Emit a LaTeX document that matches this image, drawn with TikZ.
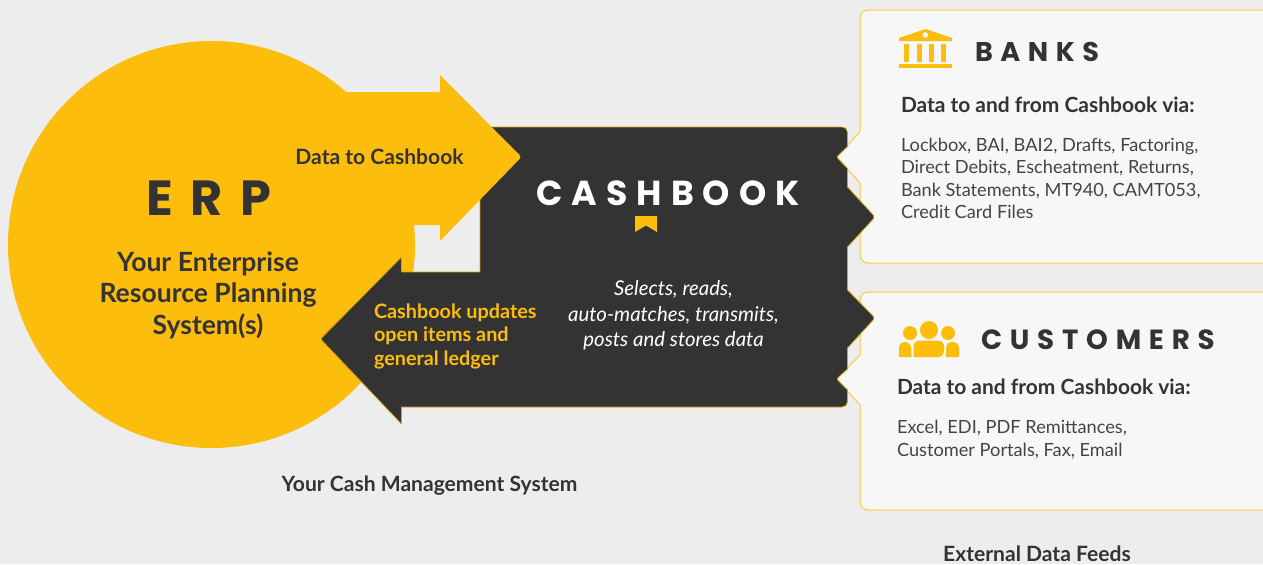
\documentclass[tikz,border=0pt]{standalone}
\usepackage{fontspec}
\setmainfont{Lato}
\newfontfamily\popA[LetterSpace=36]{Poppins Bold}
\newfontfamily\popC[LetterSpace=26]{Poppins Bold}
\newfontfamily\popB[LetterSpace=28]{Poppins Bold}
\definecolor{bg}{HTML}{EDEDED}
\definecolor{gold}{HTML}{FDBD0D}
\definecolor{dark}{HTML}{333333}
\definecolor{panelfill}{HTML}{F7F7F7}
\definecolor{panelline}{HTML}{FDC93F}
\definecolor{bodygray}{HTML}{444444}
\tikzset{
  x=0.75pt,y=-0.75pt,
  panel/.style={fill=panelfill,draw=panelline,line width=0.75pt,line join=round},
  darkshape/.style={fill=dark,draw=gold!85!black,line width=0.6pt,line join=round},
  goldshape/.style={fill=gold},
  lbl/.style={inner sep=0pt,outer sep=0pt,text=dark},
  headbold/.style={font=\fontsize{15.8}{20}\selectfont\bfseries},
  via/.style={font=\fontsize{15.7}{20}\selectfont\bfseries},
  listtext/.style={font=\fontsize{13.65}{16.7}\selectfont,text=bodygray},
}
\begin{document}
\begin{tikzpicture}
\useasboundingbox (0,0) rectangle (1263,564);
\clip (0,0) rectangle (1263,564);
\fill[bg] (0,0) rectangle (1263,564);
% panels
\path[panel] (860,132) [rounded corners=6] -- (860,10) -- (1290,10) -- (1290,263) -- (860,263) [sharp corners] -- (860,183) [rounded corners=1.5] -- (836.5,157) [sharp corners] -- cycle;
\path[panel] (860,355) [rounded corners=6] -- (860,292) -- (1290,292) -- (1290,510) -- (860,510) [sharp corners] -- (860,405) [rounded corners=1.5] -- (836.5,379) [sharp corners] -- cycle;
% circle
\fill[goldshape] (211.5,244.5) circle[radius=203.5];
% dark shape
\path[darkshape] (480,272) -- (480,127) [rounded corners=4] -- (847.5,127) [sharp corners] -- (847.5,146.5) [rounded corners=1.5] -- (836.5,157) [sharp corners] -- (847.5,168.5) -- (847.5,187) [rounded corners=1.5] -- (875,217) [sharp corners] -- (847.5,247) -- (847.5,290) [rounded corners=1.5] -- (875,318) [sharp corners] -- (847.5,348) -- (847.5,369) [rounded corners=1.5] -- (836.5,379) [sharp corners] -- (847.5,390) [rounded corners=4] -- (847.5,407) [sharp corners] -- (401.5,407) -- (401.5,424) [rounded corners=1.5] -- (320.5,339) [sharp corners] -- (401.5,257) -- (401.5,272) -- cycle;
% gold arrow
\fill[goldshape] (300,92) -- (440,92) -- (440,75) [rounded corners=2] -- (521.5,157) [sharp corners] -- (440,241) -- (440,225) -- (400,225) -- cycle;
% bank icon
\fill[goldshape,even odd rule] (925.5,29) -- (952,38) -- (952,41) -- (899,41) -- (899,38) -- cycle (925.3,35) circle[radius=3];
\foreach \cx in {906.5,919.5,931.5,943.5} \fill[goldshape] (\cx-2.7,44) rectangle (\cx+2.7,62);
\fill[goldshape] (899,64) rectangle (952,68);
% customers icon
\fill[goldshape] (929,330) circle[radius=9] (910,333) circle[radius=7] (948,333) circle[radius=7];
\fill[goldshape,rounded corners=4] (913.5,357) -- (913.5,340.5) -- (944,340.5) -- (944,357) [sharp corners] -- cycle;
\fill[goldshape,rounded corners=4] (899,357) -- (899,342) -- (911,342) [sharp corners] -- (911.5,357) -- cycle;
\fill[goldshape,rounded corners=4] (959,357) -- (959,342) -- (946,342) [sharp corners] -- (946,357) -- cycle;
% bookmark
\fill[goldshape] (635,216) -- (657,216) -- (657,232) -- (646,225.5) -- (635,232) -- cycle;
% texts
\node[lbl,font=\popA\fontsize{37}{37}\selectfont] (erp) at (209,198) {ERP};
\node[lbl,align=center,font=\fontsize{19.9}{23.6}\selectfont\bfseries] (erpsub) at (208,295) {Your Enterprise\\ Resource Planning\\ System(s)};
\node[lbl,headbold] (datato) at (379.5,157) {Data to Cashbook};
\node[lbl,align=left,anchor=west,text=gold,font=\fontsize{14.85}{17.6}\selectfont\bfseries] (updates) at (374,336) {Cashbook updates\\ open items and\\ general ledger};
\node[lbl,text=white,font=\popC\fontsize{26}{26}\selectfont] (cashbook) at (668,193.5) {CASHBOOK};
\node[lbl,align=center,text=white,font=\fontsize{15.3}{19.2}\selectfont\itshape] (selects) at (673.5,315.5) {Selects, reads,\\ auto-matches, transmits,\\ posts and stores data};
\node[lbl,headbold] (cms) at (429.5,485.5) {Your Cash Management System};
\node[lbl,headbold] (feeds) at (1037,554) {External Data Feeds};
\node[lbl,anchor=west,font=\popB\fontsize{20.3}{20}\selectfont] (banks) at (975,51.5) {BANKS};
\node[lbl,anchor=west,via] (bankvia) at (901,105) {Data to and from Cashbook via:};
\node[lbl,anchor=west,align=left,listtext] (banklist) at (901,178.5) {Lockbox, BAI, BAI2, Drafts, Factoring,\\ Direct Debits, Escheatment, Returns,\\ Bank Statements, MT940, CAMT053,\\ Credit Card Files};
\node[lbl,anchor=west,font=\popB\fontsize{20.8}{20}\selectfont] (customers) at (981,339.5) {CUSTOMERS};
\node[lbl,anchor=west,via] (custvia) at (897,387) {Data to and from Cashbook via:};
\node[lbl,anchor=west,align=left,listtext] (custlist) at (897,439.5) {Excel, EDI, PDF Remittances,\\ Customer Portals, Fax, Email};
\end{tikzpicture}
\end{document}
